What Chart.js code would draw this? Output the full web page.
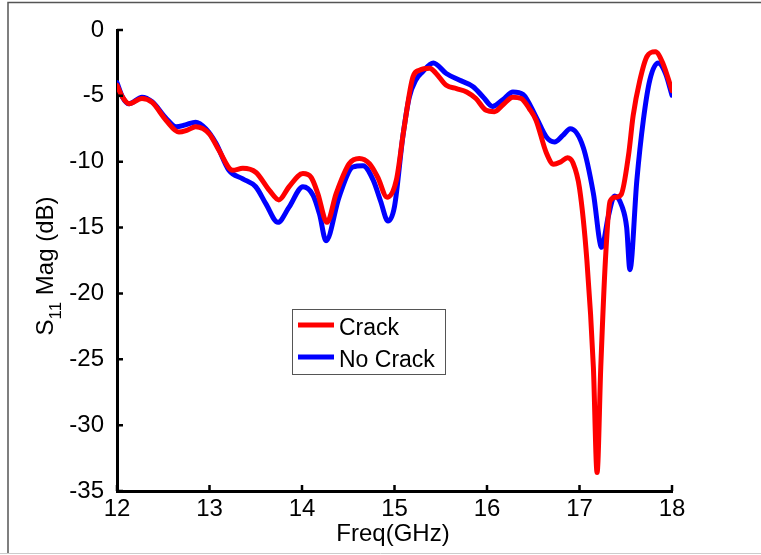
<!DOCTYPE html>
<html>
<head>
<meta charset="utf-8">
<script src="https://cdn.jsdelivr.net/npm/chart.js@4.4.1/dist/chart.umd.min.js"></script>
<style>
  body { margin: 0; background: #fff; }
  canvas { display: block; }
</style>
</head>
<body>
<canvas id="s11Chart" width="761" height="555"></canvas>
<script>
// S11 magnitude vs frequency
const freqCrack = [12.0, 12.06, 12.13, 12.27, 12.38, 12.53, 12.67, 12.76, 12.85, 13.0, 13.1, 13.25, 13.36, 13.5, 13.65, 13.75, 13.86, 14.01, 14.1, 14.17, 14.27, 14.37, 14.51, 14.62, 14.73, 14.82, 14.92, 15.02, 15.1, 15.2, 15.27, 15.38, 15.45, 15.56, 15.67, 15.78, 15.88, 15.99, 16.08, 16.17, 16.28, 16.37, 16.46, 16.53, 16.64, 16.72, 16.8, 16.87, 16.93, 17.0, 17.08, 17.15, 17.19, 17.23, 17.28, 17.33, 17.39, 17.45, 17.53, 17.58, 17.65, 17.73, 17.82, 17.9, 18.0];
const magCrack = [-4.2, -5.1, -5.6, -5.2, -5.5, -6.85, -7.75, -7.6, -7.35, -7.9, -9.1, -10.65, -10.5, -10.8, -12.2, -12.9, -11.9, -10.9, -11.2, -12.4, -14.6, -12.4, -10.15, -9.75, -10.15, -11.2, -12.7, -11.4, -7.6, -3.55, -3.05, -2.9, -3.3, -4.2, -4.45, -4.7, -5.2, -6.1, -6.2, -5.7, -5.1, -5.2, -6.0, -6.85, -9.3, -10.2, -10.0, -9.7, -10.1, -12.0, -17.5, -25.6, -33.6, -25.6, -17.5, -13.0, -12.7, -12.5, -9.5, -6.5, -3.9, -2.0, -1.65, -2.5, -4.6];

const freqNoCrack = [12.0, 12.06, 12.13, 12.27, 12.38, 12.53, 12.64, 12.74, 12.85, 12.96, 13.07, 13.21, 13.36, 13.5, 13.61, 13.74, 13.86, 14.01, 14.12, 14.19, 14.26, 14.4, 14.55, 14.66, 14.77, 14.85, 14.93, 15.0, 15.09, 15.16, 15.23, 15.3, 15.42, 15.56, 15.7, 15.85, 15.96, 16.06, 16.17, 16.28, 16.39, 16.53, 16.64, 16.73, 16.82, 16.9, 17.04, 17.15, 17.24, 17.31, 17.38, 17.46, 17.51, 17.545, 17.62, 17.69, 17.76, 17.85, 17.93, 18.0];
const magNoCrack = [-4.0, -5.1, -5.6, -5.1, -5.45, -6.7, -7.35, -7.2, -7.0, -7.5, -8.6, -10.65, -11.3, -11.9, -13.2, -14.6, -13.45, -11.9, -12.55, -14.0, -16.0, -12.7, -10.4, -10.3, -11.4, -13.0, -14.5, -13.4, -8.1, -5.1, -3.8, -3.2, -2.5, -3.3, -3.8, -4.3, -5.1, -5.8, -5.3, -4.7, -4.9, -6.6, -8.1, -8.5, -8.0, -7.5, -8.9, -12.4, -16.5, -14.2, -12.6, -13.4, -15.0, -18.2, -11.4, -6.85, -3.8, -2.5, -3.3, -4.95];

const seriesLabels = ['Crack', 'No Crack'];
const xTicks = [12, 13, 14, 15, 16, 17, 18];
const yTicks = [0, -5, -10, -15, -20, -25, -30, -35];

const FONT = "'Liberation Sans', Arial, sans-serif";

function toPoints(xs, ys) {
    return xs.map((x, i) => ({ x: x, y: ys[i] }));
}

// figure frame, inward ticks, titles and legend box
const decorations = {
    id: 'decorations',
    beforeDraw(chart) {
        const ctx = chart.ctx;
        ctx.save();
        ctx.fillStyle = '#fff';
        ctx.fillRect(0, 0, chart.width, chart.height);
        ctx.strokeStyle = '#555';
        ctx.lineWidth = 1.5;
        ctx.beginPath();
        ctx.moveTo(8, 553);
        ctx.lineTo(8, 2.5);
        ctx.lineTo(761, 2.5);
        ctx.stroke();
        ctx.strokeStyle = '#ccc';
        ctx.lineWidth = 1;
        ctx.beginPath();
        ctx.moveTo(0, 553.5);
        ctx.lineTo(761, 553.5);
        ctx.stroke();
        ctx.restore();
    },
    afterDraw(chart) {
        const ctx = chart.ctx;
        const area = chart.chartArea;
        const xs = chart.scales.x;
        const ys = chart.scales.y;
        ctx.save();

        // ticks pointing into the plot
        ctx.strokeStyle = '#000';
        ctx.lineWidth = 2.5;
        ctx.beginPath();
        xTicks.forEach(v => {
            const px = xs.getPixelForValue(v);
            ctx.moveTo(px, area.bottom);
            ctx.lineTo(px, area.bottom - 6);
        });
        yTicks.forEach(v => {
            const py = ys.getPixelForValue(v);
            ctx.moveTo(area.left, py);
            ctx.lineTo(area.left + 6, py);
        });
        ctx.stroke();

        // x title
        ctx.fillStyle = '#000';
        ctx.font = '24px ' + FONT;
        ctx.textAlign = 'center';
        ctx.textBaseline = 'alphabetic';
        ctx.fillText('Freq(GHz)', 393, 541);

        // y title with subscript
        ctx.save();
        ctx.translate(53, 266);
        ctx.rotate(-Math.PI / 2);
        const big = '24px ' + FONT;
        const small = '17px ' + FONT;
        ctx.font = big;
        const wS = ctx.measureText('S').width;
        const wRest = ctx.measureText(' Mag (dB)').width;
        ctx.font = small;
        const wSub = ctx.measureText('11').width;
        let x0 = -(wS + wSub + wRest) / 2;
        ctx.textAlign = 'left';
        ctx.font = big;
        ctx.fillText('S', x0, 0);
        ctx.font = small;
        ctx.fillText('11', x0 + wS, 8);
        ctx.font = big;
        ctx.fillText(' Mag (dB)', x0 + wS + wSub, 0);
        ctx.restore();

        // legend
        const bx = 292.5, by = 309.5, bw = 153, bh = 65;
        ctx.fillStyle = '#fff';
        ctx.fillRect(bx, by, bw, bh);
        ctx.strokeStyle = '#555';
        ctx.lineWidth = 1;
        ctx.strokeRect(bx, by, bw, bh);
        ctx.font = '23px ' + FONT;
        ctx.textAlign = 'left';
        ctx.textBaseline = 'alphabetic';
        chart.data.datasets.forEach((ds, i) => {
            const ly = 325 + i * 32;
            ctx.strokeStyle = ds.borderColor;
            ctx.lineWidth = 5;
            ctx.beginPath();
            ctx.moveTo(298, ly);
            ctx.lineTo(334, ly);
            ctx.stroke();
            ctx.fillStyle = '#000';
            ctx.fillText(ds.label, 339, ly + 10);
        });
        ctx.restore();
    }
};

const ctx = document.getElementById('s11Chart').getContext('2d');
const s11Chart = new Chart(ctx, {
    type: 'line',
    data: {
        datasets: [{
            label: seriesLabels[0],
            data: toPoints(freqCrack, magCrack),
            borderColor: '#ff0000',
            borderWidth: 5,
            pointRadius: 0,
            cubicInterpolationMode: 'monotone',
            borderJoinStyle: 'round',
            borderCapStyle: 'round'
        }, {
            label: seriesLabels[1],
            data: toPoints(freqNoCrack, magNoCrack),
            borderColor: '#0000ff',
            borderWidth: 5,
            pointRadius: 0,
            cubicInterpolationMode: 'monotone',
            borderJoinStyle: 'round',
            borderCapStyle: 'round'
        }]
    },
    options: {
        responsive: false,
        animation: false,
        devicePixelRatio: 1,
        layout: { padding: { left: 0, top: 30, right: 89, bottom: 0 } },
        plugins: {
            legend: { display: false },
            tooltip: { enabled: false }
        },
        scales: {
            x: {
                type: 'linear',
                min: 12,
                max: 18,
                afterBuildTicks: s => { s.ticks = xTicks.map(v => ({ value: v })); },
                afterFit: s => { s.height = 64; },
                ticks: { color: '#000', font: { size: 24, family: FONT }, padding: -4, maxRotation: 0 },
                grid: { display: false },
                border: { display: true, color: '#000', width: 3 }
            },
            y: {
                min: -35,
                max: 0,
                afterBuildTicks: s => { s.ticks = yTicks.map(v => ({ value: v })); },
                afterFit: s => { s.width = 117; },
                ticks: { color: '#000', font: { size: 24, family: FONT }, padding: 5 },
                grid: { display: false },
                border: { display: true, color: '#000', width: 3 }
            }
        }
    },
    plugins: [decorations]
});
</script>
</body>
</html>
